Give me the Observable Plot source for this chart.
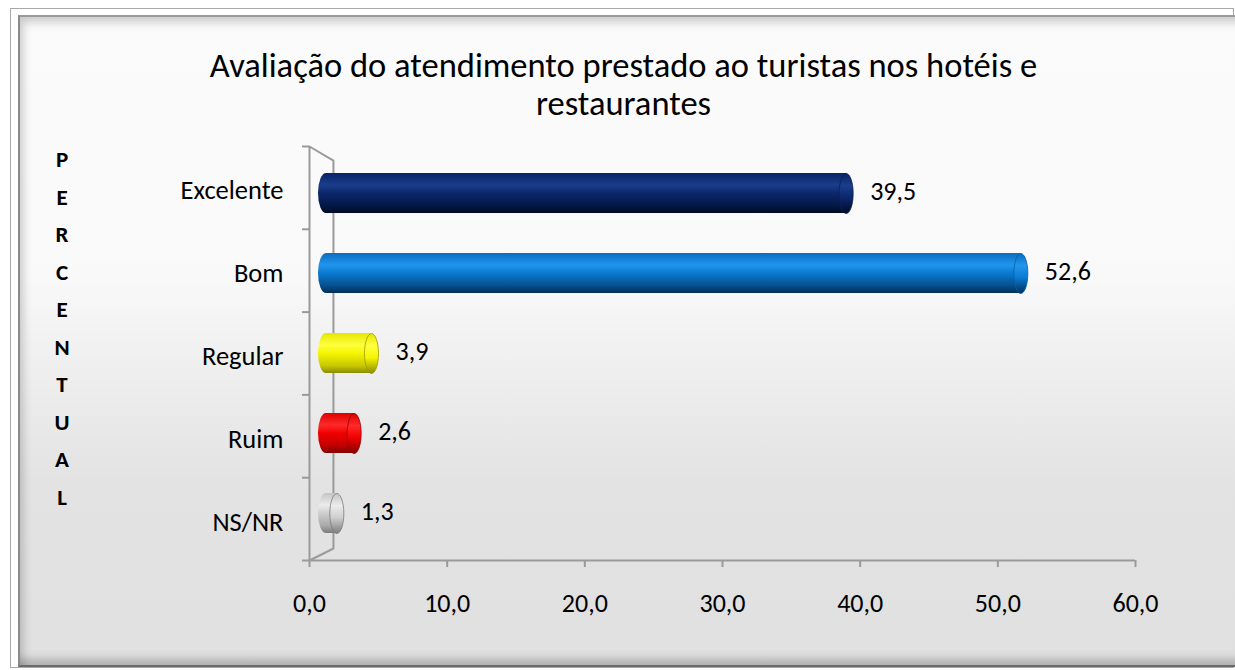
<!DOCTYPE html>
<html>
<head>
<meta charset="utf-8">
<script src="https://cdn.jsdelivr.net/npm/d3@7"></script>
<script src="https://cdn.jsdelivr.net/npm/@observablehq/plot@0.6"></script>
<style>
  html, body { margin: 0; padding: 0; background: #ffffff; }
  #wrap { position: relative; width: 1235px; height: 670px; overflow: hidden; font-family: Carlito, Calibri, Lato, sans-serif; }
  #outer { position: absolute; left: 10px; top: 8px; width: 1224px; height: 660px; border: 1px solid #a8a8a8; box-sizing: border-box; }
  #panel { position: absolute; left: 18px; top: 15px; width: 1230px; height: 652px; box-sizing: border-box;
    border-top: 2px solid #9a9a9a; border-left: 2px solid #8a8a8a; border-bottom: 2px solid #6a6a6a;
    background: linear-gradient(to bottom, #fbfbfb 0%, #f9f9f9 40%, #ececec 58%, #e3e3e3 72%, #e0e0e0 100%);
    box-shadow: inset 7px 9px 10px -4px rgba(0,0,0,0.2), inset 0 -14px 8px -8px rgba(0,0,0,0.22); }
  #title { position: absolute; left: 0; width: 1247px; top: 46px; text-align: center; font-size: 34.5px; line-height: 38px; color: #000; }
  #ylab { position: absolute; left: 48px; top: 141px; width: 28px; text-align: center; font-weight: bold; font-size: 23px; line-height: 37.5px; color: #000; }
  svg.layer { position: absolute; left: 0; top: 0; }
</style>
</head>
<body>
<div id="wrap">
  <div id="outer"></div>
  <div id="panel"></div>
  <div id="title">Avaliação do atendimento prestado ao turistas nos hotéis e<br>restaurantes</div>
  <div id="ylab"></div>
</div>
<script>
const categories = ["Excelente", "Bom", "Regular", "Ruim", "NS/NR"];
const values = [39.5, 52.6, 3.9, 2.6, 1.3];
const xTicks = [0, 10, 20, 30, 40, 50, 60];
const yAxisLetters = "PERCENTUAL".split("");

// palette for the 3D cylinders (top, highlight, mid, shade, bottom)
const palette = [
  ["#0a2466", "#1a3d8c", "#0c276b", "#031845", "#000a26"],
  ["#0a6cc0", "#2196ee", "#0b7ad2", "#054f8c", "#022f58"],
  ["#e6e600", "#ffff40", "#f6f600", "#c8c800", "#8a8a00"],
  ["#dd0000", "#ff2a2a", "#f20000", "#c00000", "#800000"],
  ["#c4c4c4", "#ececec", "#cfcfcf", "#a8a8a8", "#7c7c7c"]
];
const capStroke = ["#0a1f55", "#0a5ea8", "#9a9a00", "#8a0000", "#7a7a7a"];

const rows = categories.map((c, i) => ({cat: c, value: values[i], idx: i}));
const fmt = v => v.toFixed(1).replace(".", ",");
const font = "Carlito, Calibri, Lato, sans-serif";
const W = 1235, H = 670;

document.getElementById("ylab").innerHTML = yAxisLetters.map(l => `<div>${l}</div>`).join("");

// ---------- Layer A: axes & 3D wall ----------
const depthX = 1.74, depthY = 0.17, wallBottom = 0.145;
const wall = [
  {x: 0, y: 5}, {x: depthX, y: 5 - depthY}, {x: depthX, y: wallBottom}, {x: 0, y: 0}
];
const axisColor = "#9a9a9a";
const A = Plot.plot({
  width: W, height: H,
  marginLeft: 309, marginRight: 100, marginTop: 146, marginBottom: 110,
  style: {background: "transparent", overflow: "visible", fontFamily: font},
  x: {domain: [0, 60]},
  y: {domain: [0, 5]},
  marks: [
    Plot.line(wall, {x: "x", y: "y", stroke: axisColor, strokeWidth: 2}),
    Plot.ruleX([0], {y1: 0, y2: 5, stroke: axisColor, strokeWidth: 2}),
    Plot.ruleY([0], {stroke: axisColor, strokeWidth: 2}),
    Plot.axisX({ticks: xTicks, tickFormat: fmt, tickSize: 7, tickPadding: 26, fontSize: 26, stroke: axisColor, strokeWidth: 2, color: "#000", label: null}),
    Plot.axisY({ticks: [0, 1, 2, 3, 4, 5], tickFormat: () => "", tickSize: 7, stroke: axisColor, strokeWidth: 2, label: null}),
    Plot.text(rows, {x: 0, y: d => 4.5 - d.idx, text: "cat", textAnchor: "end", dx: -26, dy: 3, fontSize: 26.5, fill: "#000"})
  ]
});
A.classList.add("layer");
document.getElementById("wrap").appendChild(A);

// ---------- Layer B: cylinders ----------
const ellipseSymbol = {
  draw(ctx, size) {
    const ry = Math.sqrt(size / Math.PI), rx = ry * 0.35, k = 0.5523;
    ctx.moveTo(rx, 0);
    ctx.bezierCurveTo(rx, k * ry, k * rx, ry, 0, ry);
    ctx.bezierCurveTo(-k * rx, ry, -rx, k * ry, -rx, 0);
    ctx.bezierCurveTo(-rx, -k * ry, -k * rx, -ry, 0, -ry);
    ctx.bezierCurveTo(k * rx, -ry, rx, -k * ry, rx, 0);
    ctx.closePath();
  }
};
const B = Plot.plot({
  width: W, height: H,
  marginLeft: 318, marginRight: 117, marginTop: 153, marginBottom: 117,
  style: {background: "transparent", overflow: "visible", fontFamily: font},
  x: {domain: [0, 60], axis: null},
  y: {domain: categories, paddingInner: 0.5, paddingOuter: 0.25, axis: null},
  color: {type: "identity"},
  marks: [
    Plot.barX(rows, {x: "value", y: "cat", fill: d => `url(#cyl${d.idx})`, insetRight: -8, rx: 8, ry: 20}),
    Plot.dot(rows, {x: "value", y: "cat", symbol: ellipseSymbol, r: 20, dx: 1, fill: d => `url(#cap${d.idx})`, stroke: d => capStroke[d.idx], strokeWidth: 0.8}),
    Plot.text(rows, {x: "value", y: "cat", text: d => fmt(d.value), textAnchor: "start", dx: 25, dy: -2, fontSize: 26, fill: "#000"})
  ]
});
B.classList.add("layer");
const defs = d3.select(B).insert("defs", ":first-child");
palette.forEach((p, i) => {
  const g = defs.append("linearGradient").attr("id", `cyl${i}`).attr("x1", 0).attr("y1", 0).attr("x2", 0).attr("y2", 1);
  [[0, p[0]], [0.3, p[1]], [0.5, p[2]], [0.82, p[3]], [1, p[4]]].forEach(([o, c]) =>
    g.append("stop").attr("offset", o).attr("stop-color", c));
  const c = defs.append("linearGradient").attr("id", `cap${i}`).attr("x1", 0).attr("y1", 0).attr("x2", 0).attr("y2", 1);
  [[0, p[0]], [0.3, p[1]], [0.6, p[2]], [1, p[4]]].forEach(([o, col]) =>
    c.append("stop").attr("offset", o).attr("stop-color", col));
});
document.getElementById("wrap").appendChild(B);
</script>
</body>
</html>
